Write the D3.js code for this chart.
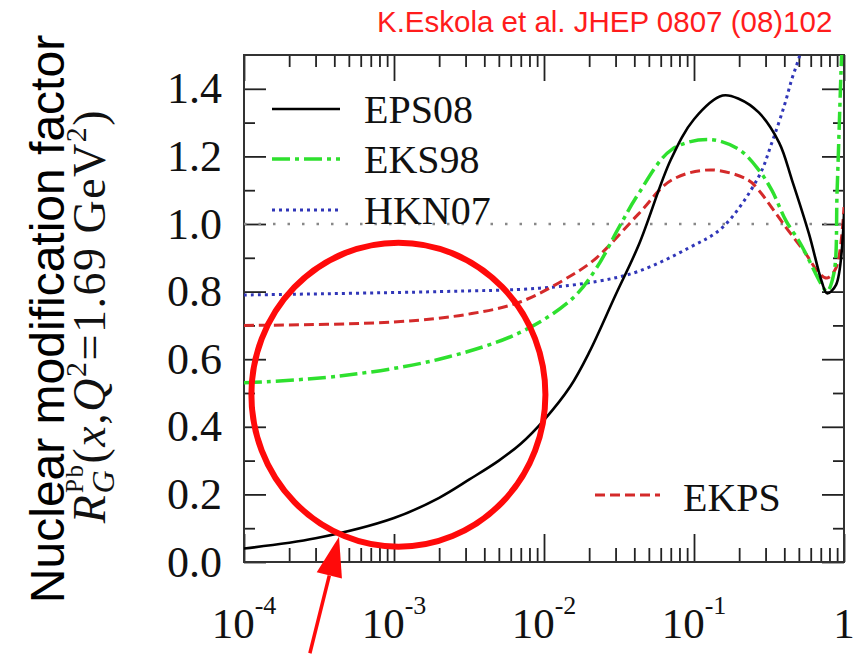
<!DOCTYPE html>
<html>
<head>
<meta charset="utf-8">
<script src="https://cdn.jsdelivr.net/npm/d3@7"></script>
<style>
  body { margin: 0; background: #fff; }
  svg { display: block; }
</style>
</head>
<body>
<script>
// values (x is Bjorken x, y is R_G^Pb)
const eps08X = [1e-4, 3e-4, 1e-3, 2e-3, 3.2e-3, 5e-3, 7e-3, 0.01, 0.015, 0.02, 0.03, 0.043, 0.07, 0.1, 0.155, 0.2, 0.27, 0.37, 0.45, 0.585, 0.71, 0.77, 0.885, 1];
const eps08Y = [0.04, 0.07, 0.13, 0.19, 0.245, 0.30, 0.35, 0.42, 0.52, 0.62, 0.79, 0.94, 1.19, 1.31, 1.38, 1.37, 1.33, 1.24, 1.13, 0.97, 0.83, 0.795, 0.82, 1.03];

const eks98X = [1e-4, 4.3e-4, 2e-3, 7e-3, 0.0155, 0.0224, 0.0316, 0.0427, 0.071, 0.126, 0.2, 0.27, 0.33, 0.41, 0.5, 0.56, 0.71, 0.77, 0.857, 0.9, 0.955, 1];
const eks98Y = [0.53, 0.55, 0.60, 0.68, 0.78, 0.87, 0.99, 1.09, 1.22, 1.25, 1.22, 1.16, 1.10, 1.01, 0.95, 0.91, 0.82, 0.80, 0.855, 1.10, 1.45, 1.7];

const hkn07X = [1e-4, 2e-3, 0.0093, 0.0224, 0.0427, 0.093, 0.155, 0.27, 0.33, 0.4, 0.45, 0.5, 0.56];
const hkn07Y = [0.79, 0.80, 0.81, 0.83, 0.86, 0.93, 0.99, 1.14, 1.24, 1.35, 1.43, 1.49, 1.58];

const ekpsX = [1e-4, 1e-3, 3.3e-3, 7e-3, 0.0155, 0.0224, 0.0427, 0.071, 0.13, 0.23, 0.27, 0.41, 0.56, 0.68, 0.77, 0.885, 1];
const ekpsY = [0.70, 0.71, 0.735, 0.77, 0.85, 0.90, 1.03, 1.13, 1.16, 1.13, 1.10, 0.99, 0.91, 0.855, 0.84, 0.87, 1.05];

const yMajor = [0, 0.2, 0.4, 0.6, 0.8, 1.0, 1.2, 1.4];
const yMinor = [0.1, 0.3, 0.5, 0.7, 0.9, 1.1, 1.3];
const xDecades = [-4, -3, -2, -1, 0];

const legendNames = ["EPS08", "EKS98", "HKN07"];
const citation = "K.Eskola et al. JHEP 0807 (08)102";

// red annotation (circle centre in data units, arrow tail & tip)
const circleCentre = [1.07e-3, 0.495];
const arrowTail = [2.75e-4, -0.27];
const arrowTip = [4.3e-4, 0.075];

const W = 860, H = 654;
const margin = {left: 244, right: 16, top: 55, bottom: 92};

const svg = d3.select("body").append("svg")
    .attr("width", W)
    .attr("height", H);

svg.append("rect").attr("width", W).attr("height", H).attr("fill", "#fff");

const x = d3.scaleLog().domain([1e-4, 1]).range([margin.left, W - margin.right]);
const y = d3.scaleLinear().domain([0, 1.5]).range([H - margin.bottom, margin.top]);

const serif = "'Liberation Serif', 'Times New Roman', serif";
const sans = "'Liberation Sans', Arial, sans-serif";

//minor x ticks (2..9 in each decade)
let xMinor = [];
for (let d = -4; d < 0; d++)
    for (let k = 2; k <= 9; k++) xMinor.push(k * Math.pow(10, d));
const xMajor = xDecades.map(d => Math.pow(10, d));

function styleAxis(g) {
    g.select(".domain").remove();
    g.selectAll(".tick line").attr("stroke", "#222").attr("stroke-width", 1.8);
}

// bottom / top
svg.append("g").attr("transform", `translate(0,${y(0)})`)
    .call(d3.axisBottom(x).tickValues(xMajor).tickSize(-28).tickFormat(""))
    .call(styleAxis);
svg.append("g").attr("transform", `translate(0,${y(0)})`)
    .call(d3.axisBottom(x).tickValues(xMinor).tickSize(-14).tickFormat(""))
    .call(styleAxis);
svg.append("g").attr("transform", `translate(0,${y(1.5)})`)
    .call(d3.axisTop(x).tickValues(xMajor).tickSize(-26).tickFormat(""))
    .call(styleAxis);
svg.append("g").attr("transform", `translate(0,${y(1.5)})`)
    .call(d3.axisTop(x).tickValues(xMinor).tickSize(-12).tickFormat(""))
    .call(styleAxis);

// left / right
const yAxis = svg.append("g").attr("transform", `translate(${x(1e-4)},0)`)
    .call(d3.axisLeft(y).tickValues(yMajor).tickSize(-22).tickPadding(22).tickFormat(d3.format(".1f")))
    .call(styleAxis);
yAxis.selectAll("text")
    .attr("font-family", serif)
    .attr("font-size", 44)
    .attr("fill", "#111");
svg.append("g").attr("transform", `translate(${x(1e-4)},0)`)
    .call(d3.axisLeft(y).tickValues(yMinor).tickSize(-11).tickFormat(""))
    .call(styleAxis);
svg.append("g").attr("transform", `translate(${x(1)},0)`)
    .call(d3.axisRight(y).tickValues(yMajor).tickSize(-22).tickFormat(""))
    .call(styleAxis);
svg.append("g").attr("transform", `translate(${x(1)},0)`)
    .call(d3.axisRight(y).tickValues(yMinor).tickSize(-11).tickFormat(""))
    .call(styleAxis);

// x tick labels 10^n
xDecades.forEach(d => {
    const t = svg.append("text")
        .attr("x", x(Math.pow(10, d)))
        .attr("y", 638)
        .attr("text-anchor", "middle")
        .attr("font-family", serif)
        .attr("font-size", 43)
        .attr("fill", "#111");
    if (d === 0) {
        t.text("1");
    } else {
        t.append("tspan").text("10");
        t.append("tspan").attr("font-size", 26).attr("dy", -24).text(String(d));
    }
});

// frame
svg.append("rect")
    .attr("x", x(1e-4)).attr("y", y(1.5))
    .attr("width", x(1) - x(1e-4)).attr("height", y(0) - y(1.5))
    .attr("fill", "none").attr("stroke", "#333").attr("stroke-width", 2);

svg.append("defs").append("clipPath").attr("id", "plotclip")
    .append("rect")
    .attr("x", x(1e-4)).attr("y", y(1.5))
    .attr("width", x(1) - x(1e-4)).attr("height", y(0) - y(1.5));

const plot = svg.append("g").attr("clip-path", "url(#plotclip)");

// reference line at 1
plot.append("line")
    .attr("x1", x(1e-4)).attr("x2", x(1))
    .attr("y1", y(1)).attr("y2", y(1))
    .attr("stroke", "#888").attr("stroke-width", 2.5)
    .attr("stroke-dasharray", "2.5,12");

const line = d3.line()
    .x(d => x(d[0]))
    .y(d => y(d[1]))
    .curve(d3.curveCatmullRom.alpha(0.5));

const series = [
    {name: "HKN07", xs: hkn07X, ys: hkn07Y, color: "#3036b8", width: 3, dash: "3,4"},
    {name: "EKPS", xs: ekpsX, ys: ekpsY, color: "#d42a2a", width: 3, dash: "10,5"},
    {name: "EKS98", xs: eks98X, ys: eks98Y, color: "#2ee02e", width: 3.5, dash: "18,5,4,5"},
    {name: "EPS08", xs: eps08X, ys: eps08Y, color: "#000", width: 2.6, dash: null}
];

series.forEach(s => {
    plot.append("path")
        .datum(d3.zip(s.xs, s.ys))
        .attr("d", line)
        .attr("fill", "none")
        .attr("stroke", s.color)
        .attr("stroke-width", s.width)
        .attr("stroke-dasharray", s.dash);
});

// legend (top left)
const legendY = [109, 159, 210];
legendNames.forEach((n, i) => {
    const s = series.find(d => d.name === n);
    svg.append("line")
        .attr("x1", 272).attr("x2", 340)
        .attr("y1", legendY[i]).attr("y2", legendY[i])
        .attr("stroke", s.color).attr("stroke-width", s.width)
        .attr("stroke-dasharray", s.dash);
    svg.append("text")
        .attr("x", 364).attr("y", legendY[i] + 14)
        .attr("font-family", serif).attr("font-size", 40).attr("fill", "#111")
        .text(n);
});
// EKPS entry at bottom right
const ekps = series.find(d => d.name === "EKPS");
svg.append("line")
    .attr("x1", 595).attr("x2", 660).attr("y1", 495).attr("y2", 495)
    .attr("stroke", ekps.color).attr("stroke-width", ekps.width)
    .attr("stroke-dasharray", ekps.dash);
svg.append("text")
    .attr("x", 683).attr("y", 511)
    .attr("font-family", serif).attr("font-size", 40).attr("fill", "#111")
    .text("EKPS");

// axis titles
svg.append("text")
    .attr("transform", "translate(64,319) rotate(-90)")
    .attr("text-anchor", "middle")
    .attr("font-family", sans).attr("font-size", 48).attr("fill", "#000")
    .text("Nuclear modification factor");

const yt = svg.append("text")
    .attr("transform", "translate(105,316) rotate(-90)")
    .attr("text-anchor", "middle")
    .attr("font-family", serif).attr("font-size", 46).attr("letter-spacing", 1.5).attr("fill", "#111");
yt.append("tspan").attr("font-style", "italic").text("R");
yt.append("tspan").attr("font-style", "italic").attr("font-size", 32).attr("dy", 9).text("G");
yt.append("tspan").attr("font-size", 25).attr("dx", -24).attr("dy", -31).text("Pb");
yt.append("tspan").attr("dy", 22).text("(");
yt.append("tspan").attr("font-style", "italic").text("x");
yt.append("tspan").text(",");
yt.append("tspan").attr("font-style", "italic").text("Q");
yt.append("tspan").attr("font-size", 30).attr("dy", -19).text("2");
yt.append("tspan").attr("dy", 19).text("=1.69 GeV");
yt.append("tspan").attr("font-size", 30).attr("dy", -19).text("2");
yt.append("tspan").attr("dy", 19).text(")");

// citation
svg.append("text")
    .attr("x", 377).attr("y", 32)
    .attr("font-family", sans).attr("font-size", 29.5).attr("fill", "#ff1c1c")
    .text(citation);

// red annotation circle and arrow
svg.append("ellipse")
    .attr("cx", x(circleCentre[0])).attr("cy", y(circleCentre[1]))
    .attr("rx", 147).attr("ry", 152)
    .attr("fill", "none").attr("stroke", "#ff0a0a").attr("stroke-width", 6);

const tx = x(arrowTail[0]), ty = y(arrowTail[1]);
const hx = x(arrowTip[0]), hy = y(arrowTip[1]);
const ang = Math.atan2(hy - ty, hx - tx);
const headLen = 40, headW = 13;
const bx = hx - headLen * Math.cos(ang), by = hy - headLen * Math.sin(ang);
svg.append("line")
    .attr("x1", tx).attr("y1", ty).attr("x2", bx).attr("y2", by)
    .attr("stroke", "#ff0a0a").attr("stroke-width", 3.5);
svg.append("polygon")
    .attr("points", [
        [hx, hy],
        [bx + headW * Math.sin(ang), by - headW * Math.cos(ang)],
        [bx - headW * Math.sin(ang), by + headW * Math.cos(ang)]
    ].map(p => p.join(",")).join(" "))
    .attr("fill", "#ff0a0a");
</script>
</body>
</html>
